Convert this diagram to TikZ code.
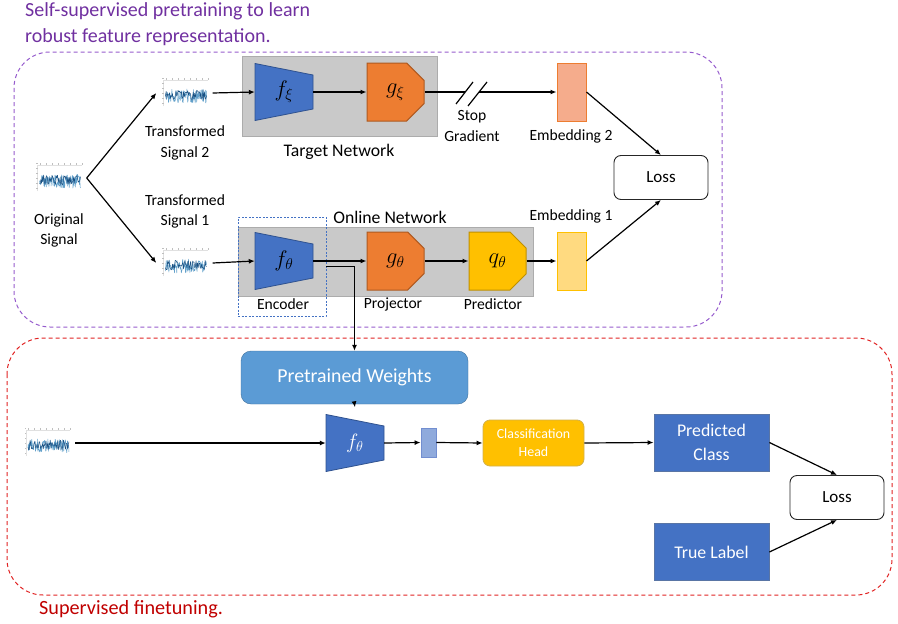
\documentclass[tikz,border=0pt]{standalone}
\usepackage{graphicx}
\usepackage{fontspec}
\setmainfont{Carlito}
\usetikzlibrary{arrows.meta,shapes.misc}

\definecolor{encblue}{RGB}{68,114,196}
\definecolor{encedge}{RGB}{47,82,143}
\definecolor{projorange}{RGB}{237,125,49}
\definecolor{projedge}{RGB}{174,90,33}
\definecolor{predgold}{RGB}{255,192,0}
\definecolor{prededge}{RGB}{191,144,0}
\definecolor{netgray}{RGB}{201,201,201}
\definecolor{netedge}{RGB}{172,172,172}
\definecolor{embpink}{RGB}{245,172,140}
\definecolor{embyellow}{RGB}{255,218,128}
\definecolor{pwblue}{RGB}{91,155,213}
\definecolor{pwedge}{RGB}{65,113,156}
\definecolor{vecblue}{RGB}{143,170,220}
\definecolor{vecedge}{RGB}{114,142,208}
\definecolor{sslpurple}{RGB}{112,48,160}
\definecolor{ssldash}{RGB}{150,92,205}
\definecolor{ftred}{RGB}{192,0,0}
\definecolor{ftdash}{RGB}{225,35,35}
\definecolor{sigblue}{RGB}{31,119,180}
\definecolor{sigdark}{RGB}{25,80,130}

% enlarged math label
\newcommand\mlab[1]{\scalebox{1.3}{$#1$}}

\tikzset{
	arr/.style={-{Latex[length=6pt,width=5pt]}, line width=1.2pt},
	lbl/.style={font=\fontsize{15.6}{20.5}\selectfont, align=center, inner sep=0pt},
	netlbl/.style={font=\fontsize{17.7}{21}\selectfont, inner sep=0pt},
	netbox/.style={fill=netgray, draw=netedge, line width=0.8pt, inner sep=0pt},
	headbox/.style={chamfered rectangle, chamfered rectangle corners={north east,south east},
		chamfered rectangle xsep=14pt, chamfered rectangle ysep=15pt,
		minimum width=57pt, minimum height=58pt, inner sep=0pt, line width=1pt,
		font=\fontsize{17.28}{20}\selectfont},
	embbox/.style={minimum width=29pt, minimum height=58pt, inner sep=0pt, line width=1pt},
	lossbox/.style={draw=black!85, rounded corners=7pt, minimum width=94pt, minimum height=44pt,
		line width=0.9pt, font=\fontsize{17}{20}\selectfont},
	sigbox/.style={minimum width=56pt, minimum height=30pt, inner sep=0pt},
	classbox/.style={fill=encblue, draw=encedge!80, text=white, minimum width=115pt, minimum height=57pt,
		align=center, inner sep=0pt, line width=0.8pt, font=\fontsize{17.8}{24}\selectfont},
	sigplot/.pic={
		\fill[white] (-23.5,-15) rectangle (23.5,15);
		\draw[black!12, line width=0.4pt] (-21,-13) -- (-21,13) -- (23,13);
		\foreach \t in {-11,-6,...,14} \fill[black!25] (-22.5,\t) rectangle (-21,\t+0.8);
		\foreach \t in {-19,-13,...,23} \fill[black!25] (\t,13.4) rectangle (\t+1,14.6);
		\draw[sigblue!70, line width=0.5pt, line join=round] plot[domain=-19:22, samples=110] (\x,{-3+7*rand});
		\draw[sigdark, line width=0.5pt, line join=round] plot[domain=-19:22, samples=60] (\x,{-2+5*rand});
	}
}

% trapezium encoder: name, x, y, label
\newcommand\encshape[4]{%
	\filldraw[fill=encblue, draw=encedge, line width=0.8pt] (#2-29,#3-28.5) -- (#2+29,#3-17) -- (#2+29,#3+17) -- (#2-29,#3+28.5) -- cycle;
	\node[inner sep=0pt, minimum width=58pt, minimum height=57pt, font=\fontsize{17.28}{20}\selectfont] (#1) at (#2,#3) {#4};}

\begin{document}
	\begin{tikzpicture}[x=1pt,y=1pt,yscale=-1]
		\pgfmathsetseed{11}
		\useasboundingbox (0,0) rectangle (898,624);
		
		%Rounded Rect [id:ssl]
		\draw[ssldash, line width=1pt, dash pattern=on 4pt off 3pt, rounded corners=36pt] (14,52) rectangle (722,327);
		%Rounded Rect [id:ft]
		\draw[ftdash, line width=1pt, dash pattern=on 4pt off 3pt, rounded corners=36pt] (7,338) rectangle (892,595);
		
		% Text Node
		\node[anchor=north west, inner sep=0pt, align=left, text=sslpurple, font=\fontsize{20}{26}\selectfont] (ssltitle) at (25,2) {Self-supervised pretraining to learn\\robust feature representation.};
		% Text Node
		\node[anchor=base west, inner sep=0pt, text=ftred, font=\fontsize{20.2}{24}\selectfont] (fttitle) at (39,614) {Supervised finetuning.};
		
		%Shape: Rectangle [id:target]
		\node[netbox, minimum width=195pt, minimum height=80pt] (tgtnet) at (339.5,96) {};
		%Shape: Rectangle [id:online]
		\node[netbox, minimum width=295pt, minimum height=69pt] (onlnet) at (385.5,261.5) {};
		%Shape: Rectangle [id:encoder]
		\node[draw=encblue, dash pattern=on 2pt off 1.5pt, line width=0.8pt, minimum width=88pt, minimum height=99pt, inner sep=0pt] (encbox) at (282,266.5) {};
		
		% signals
		\node[sigbox] (sig0) at (58.5,178) {};
		\pic at (sig0) {sigplot};
		\node[sigbox] (sig2) at (184.5,93) {};
		\pic at (sig2) {sigplot};
		\node[sigbox] (sig1) at (184.5,263) {};
		\pic at (sig1) {sigplot};
		\node[sigbox] (sig3) at (47,443) {};
		\pic at (sig3) {sigplot};
		
		% networks
		\encshape{fxi}{284}{92}{\mlab{f_\xi}}
		\node[headbox, fill=projorange, draw=projedge] (gxi) at (395.5,92) {\mlab{g_\xi}};
		\encshape{fth}{284}{261}{\mlab{f_\theta}}
		\node[headbox, fill=projorange, draw=projedge] (gth) at (395.5,261) {\mlab{g_\theta}};
		\node[headbox, fill=predgold, draw=prededge] (qth) at (497.5,261) {\mlab{q_\theta}};
		\node[embbox, fill=embpink, draw=projorange] (emb2) at (571.5,92) {};
		\node[embbox, fill=embyellow, draw=predgold] (emb1) at (571.5,261) {};
		\node[lossbox] (loss1) at (661,177.5) {Loss};
		
		% Text Node
		\node[lbl] (origlbl) at (59,230.5) {Original\\Signal};
		\node[lbl] (sig2lbl) at (185,143) {Transformed\\Signal 2};
		\node[lbl] (sig1lbl) at (185,211.5) {Transformed\\Signal 1};
		\node[lbl] (stoplbl) at (472,126) {Stop\\Gradient};
		\node[lbl] (emb2lbl) at (571,136) {Embedding 2};
		\node[lbl] (emb1lbl) at (571,216) {Embedding 1};
		\node[lbl] (enclbl) at (283,304) {Encoder};
		\node[lbl] (projlbl) at (393,304) {Projector};
		\node[lbl] (predlbl) at (493,304) {Predictor};
		\node[netlbl] (tgtlbl) at (339,152) {Target Network};
		\node[netlbl] (onllbl) at (390,217) {Online Network};
		
		%Straight Lines
		\draw[arr] (sig0.east) -- (sig2.west);
		\draw[arr] (sig0.east) -- (sig1.west);
		\draw[arr] (sig2.east) -- (fxi.west);
		\draw[arr] (fxi.east) -- (gxi.west);
		\coordinate (sgA) at (465,92);
		\coordinate (sgB) at (479,92);
		\draw[line width=1.2pt] (gxi.east) -- (sgA);
		\draw[arr] (sgB) -- (emb2.west);
		\draw[line width=1.2pt] (456,104) -- (473,82) (468,106) -- (487,82);
		\draw[arr] (sig1.east) -- (fth.west);
		\draw[arr] (fth.east) -- (gth.west);
		\draw[arr] (gth.east) -- (qth.west);
		\draw[arr] (qth.east) -- (emb1.west);
		\draw[arr] (emb2.east) -- (loss1.north);
		\draw[arr] (emb1.east) -- (loss1.south);
		
		% finetuning
		\node[fill=pwblue, draw=pwedge, rounded corners=10pt, minimum width=227pt, minimum height=53pt, text=white, font=\fontsize{19.8}{22}\selectfont] (pw) at (354.5,377.5) {Pretrained Weights};
		\encshape{fth3}{355}{443}{\color{white}\scalebox{1.2}{$f_\theta$}}
		\node[fill=vecblue, draw=vecedge, line width=0.8pt, minimum width=15pt, minimum height=29pt, inner sep=0pt] (vec) at (428.5,442.5) {};
		\node[fill=predgold, draw=prededge!70, rounded corners=7pt, minimum width=101pt, minimum height=46pt, inner sep=0pt, text=white, align=center, line width=0.8pt, font=\fontsize{13.9}{18}\selectfont] (chead) at (533.5,443) {Classification\\Head};
		\node[classbox] (pclass) at (711.5,442.5) {Predicted\\Class};
		\node[classbox] (tlabel) at (711.5,552) {True Label};
		\node[lossbox] (loss2) at (837,497.5) {Loss};
		
		\draw[arr] (encbox.east) -| (pw.north);
		\draw[arr] (pw.south) -- ([yshift=-7pt]fth3.north);
		\draw[arr] (sig3.east) -- (fth3.west);
		\draw[arr] (fth3.east) -- (vec.west);
		\draw[arr] (vec.east) -- (chead.west);
		\draw[arr] (chead.east) -- (pclass.west);
		\draw[arr] (pclass.east) -- (loss2.north);
		\draw[arr] (tlabel.east) -- (loss2.south);
	\end{tikzpicture}
\end{document}
